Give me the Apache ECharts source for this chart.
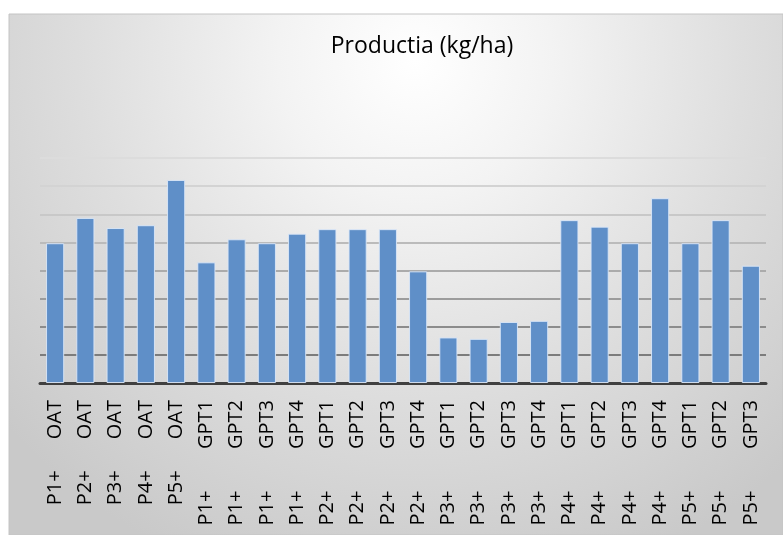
<!DOCTYPE html>
<html>
<head>
<meta charset="utf-8">
<script src="https://cdn.jsdelivr.net/npm/echarts@6/dist/echarts.min.js"></script>
<style>
html,body{margin:0;padding:0;background:#ffffff;}
#chart{width:783px;height:535px;}
</style>
</head>
<body>
<div id="chart"></div>
<script>
const titleText = 'Productia (kg/ha)';
const groupLabels = ['P1+','P2+','P3+','P4+','P5+',
  'P1+','P1+','P1+','P1+',
  'P2+','P2+','P2+','P2+',
  'P3+','P3+','P3+','P3+',
  'P4+','P4+','P4+','P4+',
  'P5+','P5+','P5+'];
const treatLabels = ['OAT','OAT','OAT','OAT','OAT',
  'GPT1','GPT2','GPT3','GPT4',
  'GPT1','GPT2','GPT3','GPT4',
  'GPT1','GPT2','GPT3','GPT4',
  'GPT1','GPT2','GPT3','GPT4',
  'GPT1','GPT2','GPT3'];
const productia = [2485,2935,2755,2805,3610,2145,2555,2485,2655,2735,2735,2735,
  1985,810,785,1085,1105,2895,2780,2485,3285,2485,2895,2085];
const yMin = 0, yMax = 4000, yStep = 500;

const categories = groupLabels.map((g, i) =>
  g + ' '.repeat(treatLabels[i].length === 3 ? 6 : 8) + treatLabels[i]);

const chart = echarts.init(document.getElementById('chart'), null, {renderer: 'canvas'});
chart.setOption({
  animation: false,
  graphic: [{
    type: 'rect',
    z: -10,
    silent: true,
    shape: {x: 9, y: 14, width: 774, height: 521},
    style: {
      fill: {
        type: 'radial', x: 0.525, y: 0.09, r: 1.05,
        colorStops: [
          {offset: 0, color: '#ffffff'},
          {offset: 0.25, color: '#f3f3f3'},
          {offset: 0.6, color: '#dedede'},
          {offset: 1, color: '#c9c9c9'}
        ]
      },
      stroke: '#c4c4c4',
      lineWidth: 1
    }
  }],
  title: {
    text: titleText,
    left: 417,
    top: 30,
    textAlign: 'center',
    textStyle: {fontFamily: 'Open Sans', fontSize: 23, fontWeight: 'normal', color: '#000000'}
  },
  grid: {left: 40, right: 17, top: 158, bottom: 152, containLabel: false},
  xAxis: {
    type: 'category',
    data: categories,
    axisLine: {show: true, lineStyle: {color: '#404040', width: 3}},
    axisTick: {show: false},
    axisLabel: {
      rotate: 90,
      interval: 0,
      margin: 17,
      fontFamily: 'Open Sans',
      fontSize: 20,
      color: '#000000'
    }
  },
  yAxis: {
    type: 'value',
    min: yMin,
    max: yMax,
    interval: yStep,
    axisLabel: {show: false},
    axisLine: {show: false},
    axisTick: {show: false},
    splitLine: {
      show: true,
      lineStyle: {
        width: 2,
        color: ['#404040','#7c7c7c','#8c8c8c','#9c9c9c','#ababab','#bbbbbb','#c8c8c8','#d3d3d3','#dcdcdc']
      }
    }
  },
  series: [{
    type: 'bar',
    data: productia,
    barCategoryGap: '40%',
    itemStyle: {
      color: '#5f8fc8',
      borderColor: 'rgba(220,232,248,0.9)',
      borderWidth: 1
    }
  }]
});
</script>
</body>
</html>
